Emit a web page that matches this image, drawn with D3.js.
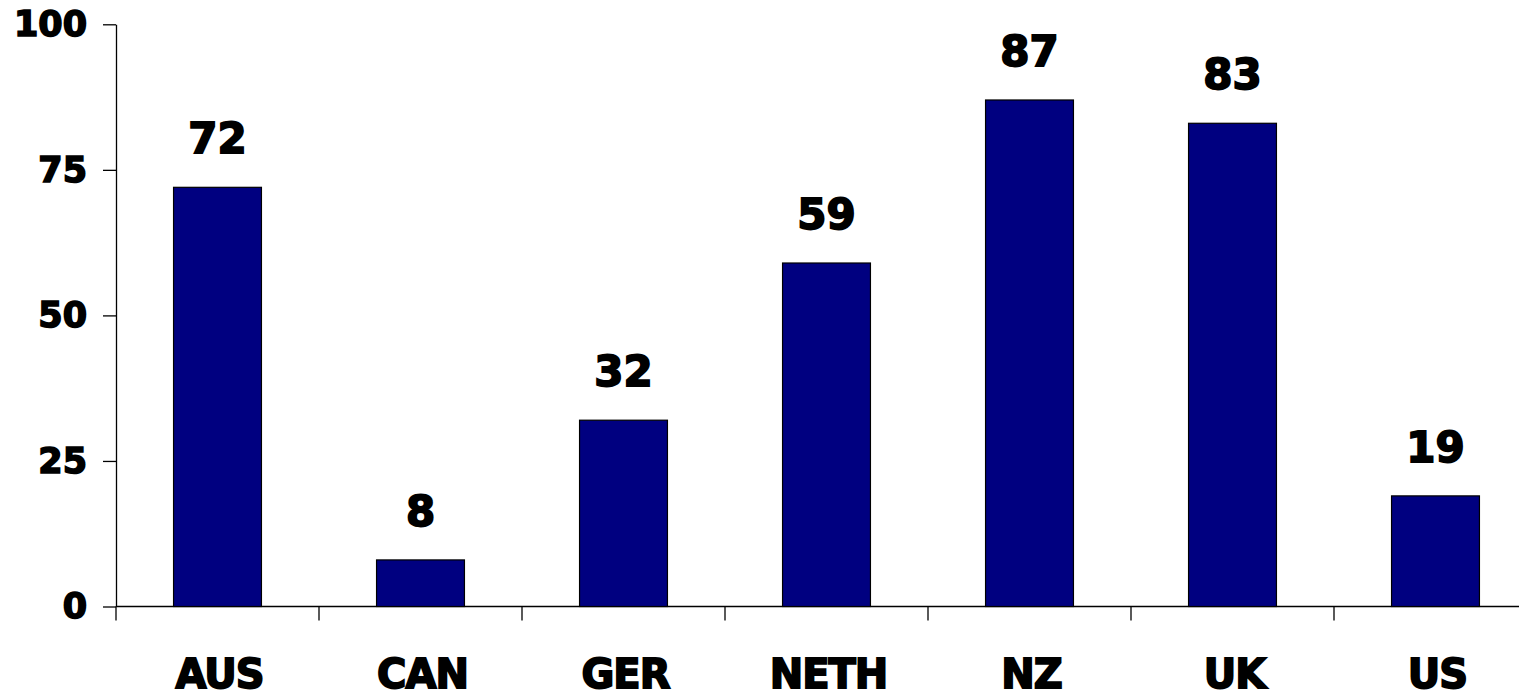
<!DOCTYPE html>
<html>
<head>
<meta charset="utf-8">
<script src="https://cdn.jsdelivr.net/npm/d3@7"></script>
<style>
  html, body { margin: 0; padding: 0; background: #fff; overflow: hidden; }
  svg { display: block; }
  text { font-family: "DejaVu Sans", sans-serif; font-weight: bold; fill: #000; }
</style>
</head>
<body>
<svg id="chart" width="1519" height="699"></svg>
<script>
const categories = ["AUS", "CAN", "GER", "NETH", "NZ", "UK", "US"];
const values = [72, 8, 32, 59, 87, 83, 19];
const yTicks = [0, 25, 50, 75, 100];

const svg = d3.select("#chart");
const left = 116, step = 203;
const x = d3.scaleBand()
  .domain(categories)
  .range([left, left + step * categories.length])
  .paddingInner(0.567)
  .paddingOuter(0.2835);
const y = d3.scaleLinear().domain([0, 100]).range([606.5, 24.3]);

// Y axis
const yAxis = d3.axisLeft(y).tickValues(yTicks).tickSize(13).tickSizeOuter(0).tickPadding(16);
const gy = svg.append("g").attr("transform", `translate(${left},0)`).call(yAxis);
gy.select(".domain").attr("stroke", "#000").attr("stroke-width", 1.3);
gy.selectAll(".tick line").attr("stroke", "#000").attr("stroke-width", 1.3);
gy.selectAll(".tick text")
  .style("font-family", '"DejaVu Sans", sans-serif')
  .style("font-weight", "bold")
  .style("font-size", "35px")
  .attr("fill", "#000")
  .attr("stroke", "#000").attr("stroke-width", 1.6);

// X axis line and boundary ticks
svg.append("line")
  .attr("x1", left).attr("x2", x.range()[1])
  .attr("y1", y(0)).attr("y2", y(0))
  .attr("stroke", "#000").attr("stroke-width", 1.3);
const bounds = d3.range(categories.length + 1).map(i => left + i * x.step());
svg.selectAll(".xtick").data(bounds).join("line")
  .attr("class", "xtick")
  .attr("x1", d => d).attr("x2", d => d)
  .attr("y1", y(0)).attr("y2", y(0) + 14)
  .attr("stroke", "#000").attr("stroke-width", 1.3);

// Bars
svg.selectAll(".bar").data(values).join("rect")
  .attr("class", "bar")
  .attr("x", (d, i) => x(categories[i]))
  .attr("width", x.bandwidth())
  .attr("y", d => y(d))
  .attr("height", d => y(0) - y(d))
  .attr("fill", "#000080")
  .attr("stroke", "#000").attr("stroke-width", 1.2);

// Value labels
svg.selectAll(".val").data(values).join("text")
  .attr("class", "val")
  .attr("x", (d, i) => x(categories[i]) + x.bandwidth() / 2)
  .attr("y", d => y(d) - 34)
  .attr("text-anchor", "middle")
  .style("font-size", "42px")
  .attr("stroke", "#000").attr("stroke-width", 1.8)
  .text(d => d);

// Category labels
svg.selectAll(".cat").data(categories).join("text")
  .attr("class", "cat")
  .attr("x", d => x(d) + x.bandwidth() / 2 + 2)
  .attr("y", 688)
  .attr("text-anchor", "middle")
  .style("font-size", "40px")
  .style("letter-spacing", "-1px")
  .attr("stroke", "#000").attr("stroke-width", 1.8)
  .text(d => d);
</script>
</body>
</html>
